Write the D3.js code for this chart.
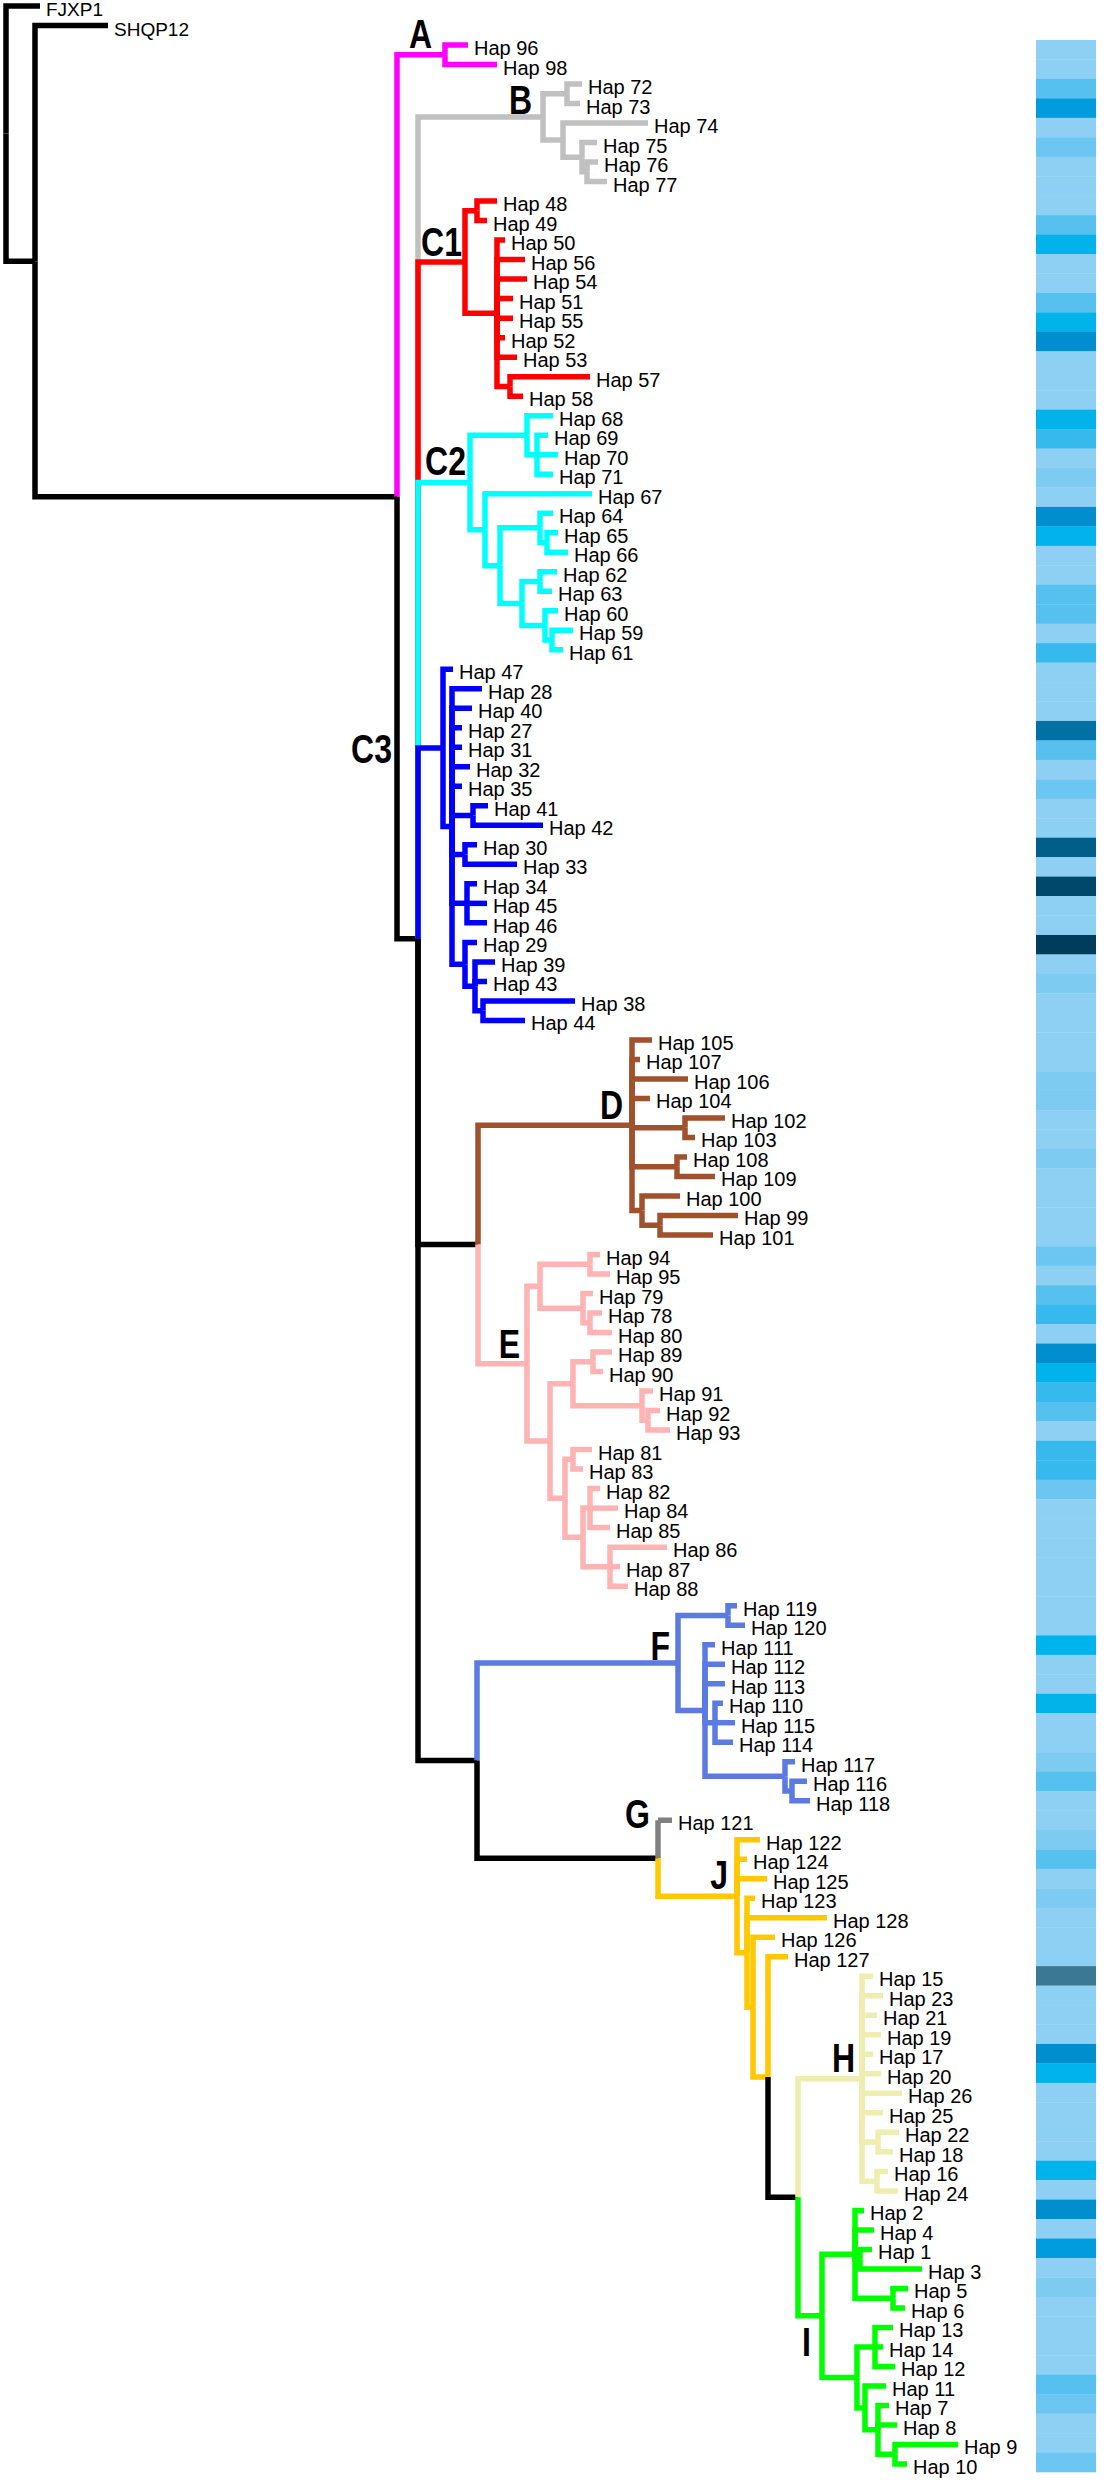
<!DOCTYPE html>
<html><head><meta charset="utf-8">
<script src="https://cdn.jsdelivr.net/npm/d3@7"></script>
<style>html,body{margin:0;padding:0;background:#fff;} svg{display:block;}</style>
</head><body>
<svg id="chart" width="1108" height="2480"></svg>
<script>
// ---------------- DATA ----------------
// Outgroups
const outgroups = ["FJXP1", "SHQP12"];
// Clades as Newick strings (branch lengths in tree units)
const cladeA  = "(Hap 96:2.3,Hap 98:5.2)A:4.8";
const cladeB  = "((Hap 72:1.5,Hap 73:1.3):2.4,(Hap 74:8.5,(Hap 75:1.5,(Hap 76:1.1,Hap 77:2.0):0.5):1.9):2.0)B:12.5";
const cladeC1 = "((Hap 48:2.0,Hap 49:1.0):1.2,(Hap 50:0.8,Hap 56:2.8,Hap 54:3.0,Hap 51:1.6,Hap 55:1.6,Hap 52:0.8,Hap 53:2.0,(Hap 57:8.0,Hap 58:1.3):1.3):3.2)C1:4.7";
const cladeC2 = "((Hap 68:2.6,(Hap 69:1.1,Hap 70:2.1,Hap 71:1.6):1.0):5.7,(Hap 67:10.7,((Hap 64:1.3,(Hap 65:1.1,Hap 66:2.1):0.7):4.0,((Hap 62:1.7,Hap 63:1.2):1.8,(Hap 60:1.3,(Hap 59:2.1,Hap 61:1.1):0.7):2.3):2.2):1.5):1.5)C2:5.2";
const cladeC3 = "(Hap 47:1.0,(Hap 28:3.0,Hap 40:2.0,Hap 27:1.0,Hap 31:1.0,Hap 32:1.8,Hap 35:1.0,(Hap 41:1.5,Hap 42:7.0):2.1,(Hap 30:1.2,Hap 33:5.2):1.3,(Hap 34:1.0,Hap 45:2.0,Hap 46:2.0):1.5,(Hap 29:1.2,(Hap 39:2.0,Hap 43:1.2,(Hap 38:9.2,Hap 44:4.2):0.8):1.0):1.3):0.9)C3:2.5";
const cladeD  = "(Hap 105:2.0,Hap 107:0.8,Hap 106:5.6,Hap 104:1.8,(Hap 102:4.0,Hap 103:1.0):5.3,(Hap 108:1.0,Hap 109:3.8):4.5,(Hap 100:3.8,(Hap 99:7.8,Hap 101:5.3):1.8):1.0)D:15.4";
const cladeE  = "(((Hap 94:1.0,Hap 95:2.0):5.0,(Hap 79:1.0,(Hap 78:1.2,Hap 80:2.2):0.7):4.3):1.3,(((Hap 89:1.9,Hap 90:1.0):2.0,(Hap 91:1.1,(Hap 92:1.2,Hap 93:2.2):0.6):6.9):2.3,((Hap 81:1.9,Hap 83:1.0):0.8,((Hap 82:1.0,Hap 84:2.8,Hap 85:2.0):0.7,(Hap 86:5.7,Hap 87:1.0,Hap 88:1.8):2.7):1.8):1.5):2.3)E:4.9";
const cladeF  = "((Hap 119:0.9,Hap 120:1.7):5.0,(Hap 111:1.0,Hap 112:2.0,Hap 113:2.0,(Hap 110:0.8,Hap 115:2.0,Hap 114:1.8):1.0,(Hap 117:1.0,(Hap 116:1.5,Hap 118:1.8):0.7):8.0):2.7)F:20.1";
const cladeG  = "(Hap 121:1.4)G:0";
const cladeH  = "(Hap 15:1.1,Hap 23:2.1,Hap 21:1.5,Hap 19:1.9,Hap 17:1.1,Hap 20:1.9,Hap 26:4.0,Hap 25:2.1,(Hap 22:2.1,Hap 18:1.5):1.6,(Hap 16:1.1,Hap 24:2.1):1.5)H:6.4";
const cladeI  = "((Hap 2:0.9,Hap 4:1.9,(Hap 1:1.2,Hap 3:6.2):0.5,(Hap 5:1.5,Hap 6:1.2):3.8):3.3,((Hap 13:1.8,Hap 14:0.8,Hap 12:2.0):1.8,(Hap 11:2.1,(Hap 7:1.1,Hap 8:1.9,(Hap 9:6.3,Hap 10:1.2):1.7):1.3):0.8):3.5)I:2.4";
const cladeHI = `(${cladeH},${cladeI})HI:3.0`;
const cladeJ  = `(Hap 122:2.3,Hap 124:1.0,Hap 125:3.0,(Hap 123:0.8,Hap 128:8.0,(Hap 126:2.2,(Hap 127:2.0,${cladeHI}):1.5):0.6):1.0)J:7.9`;
const treeNewick = `(FJXP1:3.4,(SHQP12:7.3,(${cladeA},(${cladeB},${cladeC1},${cladeC2},${cladeC3},(${cladeD},${cladeE})DE:6.0,(${cladeF},(${cladeG},${cladeJ})GJ:18.1)FG:5.9)N2:2.1)N1:36.2)SH:2.9)root;`;

const cladeNames  = ["A", "B", "C1", "C2", "C3", "D", "E", "F", "G", "J", "H", "I"];
const cladeColors = ["#ff00ff", "#c0c0c0", "#ff0000", "#00ffff", "#0000ff", "#a0522d", "#ffb3b3", "#5b7be0", "#808080", "#ffc800", "#eeeeb0", "#00ff00"];

// Heat strip: one class per haplotype row, top to bottom
const stripValues = [
  0,0,3,6,0,2,0,0,0,3, 5,0,0,3,5,7,0,0,0,5, 4,0,1,0,7,5,0,0,3,3,
  0,4,0,0,0,8,3,0,2,0, 0,9,0,10,0,0,11,0,1,0, 0,0,0,1,1,0,0,1,0,0,
  0,0,2,0,3,4,0,7,5,4, 3,0,4,4,2,0,0,0,0,0, 0,0,5,0,0,5,0,0,1,3,
  0,0,1,3,0,1,0,0,0,12, 0,0,0,7,5,0,0,0,0,5, 0,7,0,6,0,1,0,0,0,0,
  3,2,0,0,2
];
const stripPalette = ["#8ed0f4","#7ecbf2","#6bc6f1","#56c1ef","#36baed","#00b3eb","#009cde","#008ecf","#0071a3","#005e8b","#00476c","#003c5b","#3b7893"];

// ---------------- PARSE ----------------
function parseNewick(s) {
  let i = 0;
  function node() {
    const n = {children: []};
    if (s[i] === "(") {
      i++;
      n.children.push(node());
      while (s[i] === ",") { i++; n.children.push(node()); }
      i++;
    }
    let name = "";
    while (i < s.length && !",():;".includes(s[i])) name += s[i++];
    n.name = name.trim();
    n.length = 0;
    if (s[i] === ":") {
      i++;
      let num = "";
      while (i < s.length && !",();".includes(s[i])) num += s[i++];
      n.length = parseFloat(num);
    }
    if (!n.children.length) delete n.children;
    return n;
  }
  return node();
}

const root = d3.hierarchy(parseNewick(treeNewick));
root.eachBefore(d => { d.len = d.parent ? d.parent.len + d.data.length : 0; });
const leaves = root.leaves();

const xScale = d3.scaleLinear().domain([0, 100]).range([6, 1006]);
const yScale = d3.scaleLinear().domain([0, leaves.length - 1]).range([6, 2464]);

leaves.forEach((d, i) => { d.py = yScale(i); });
root.eachAfter(d => {
  if (d.children) d.py = (d.children[0].py + d.children[d.children.length - 1].py) / 2;
  d.px = xScale(d.len);
});
root.eachBefore(d => {
  const k = cladeNames.indexOf(d.data.name);
  if (k >= 0) d.color = cladeColors[k];
  else if (d.children && d.data.name) d.color = "#000";
  else d.color = d.parent ? d.parent.color : "#000";
});

// ---------------- DRAW ----------------
const svg = d3.select("#chart");

svg.append("g")
  .selectAll("path")
  .data(root.descendants().filter(d => d.parent))
  .join("path")
  .attr("d", d => `M${d.parent.px},${d.parent.py}V${d.py}H${d.px}`)
  .attr("fill", "none")
  .attr("stroke", d => d.color)
  .attr("stroke-width", 5.5)
  .attr("stroke-linejoin", "miter")
  .attr("stroke-linecap", "butt");

svg.append("g")
  .selectAll("text")
  .data(leaves)
  .join("text")
  .attr("x", d => d.px + 6)
  .attr("y", d => d.py + 10)
  .attr("font-family", "'Liberation Sans', Arial, sans-serif")
  .attr("font-size", d => outgroups.includes(d.data.name) ? 19 : 20)
  .attr("fill", "#000")
  .text(d => d.data.name);

// clade labels (offsets relative to clade node)
const labelNudge = {A:[-13,-7], B:[-11,-2.5], C1:[-3,-6], C2:[-4,-7], C3:[-51,15], D:[-9,-6], E:[-7,-6], F:[-8,-3], G:[-8,8], J:[-9,-7], H:[-7,-7], I:[-11,40]};
const cladeNodes = cladeNames.map(n => root.descendants().find(d => d.data.name === n));
svg.append("g")
  .selectAll("g")
  .data(cladeNodes)
  .join("g")
  .attr("transform", d => `translate(${d.px + labelNudge[d.data.name][0]},${d.py + labelNudge[d.data.name][1]}) scale(0.8,1)`)
  .append("text")
  .attr("text-anchor", "end")
  .attr("font-family", "'Liberation Sans', Arial, sans-serif")
  .attr("font-weight", "bold")
  .attr("font-size", 40)
  .attr("fill", "#000")
  .text(d => d.data.name);

// heat strip
const band = d3.scaleBand().domain(d3.range(stripValues.length)).range([40, 2472]).padding(0);
const stripColor = d3.scaleOrdinal().domain(d3.range(stripPalette.length)).range(stripPalette);
svg.append("g")
  .selectAll("rect")
  .data(stripValues)
  .join("rect")
  .attr("x", 1036)
  .attr("width", 60)
  .attr("y", (d, i) => band(i))
  .attr("height", band.bandwidth() + 0.3)
  .attr("fill", d => stripColor(d));
</script>
</body></html>
